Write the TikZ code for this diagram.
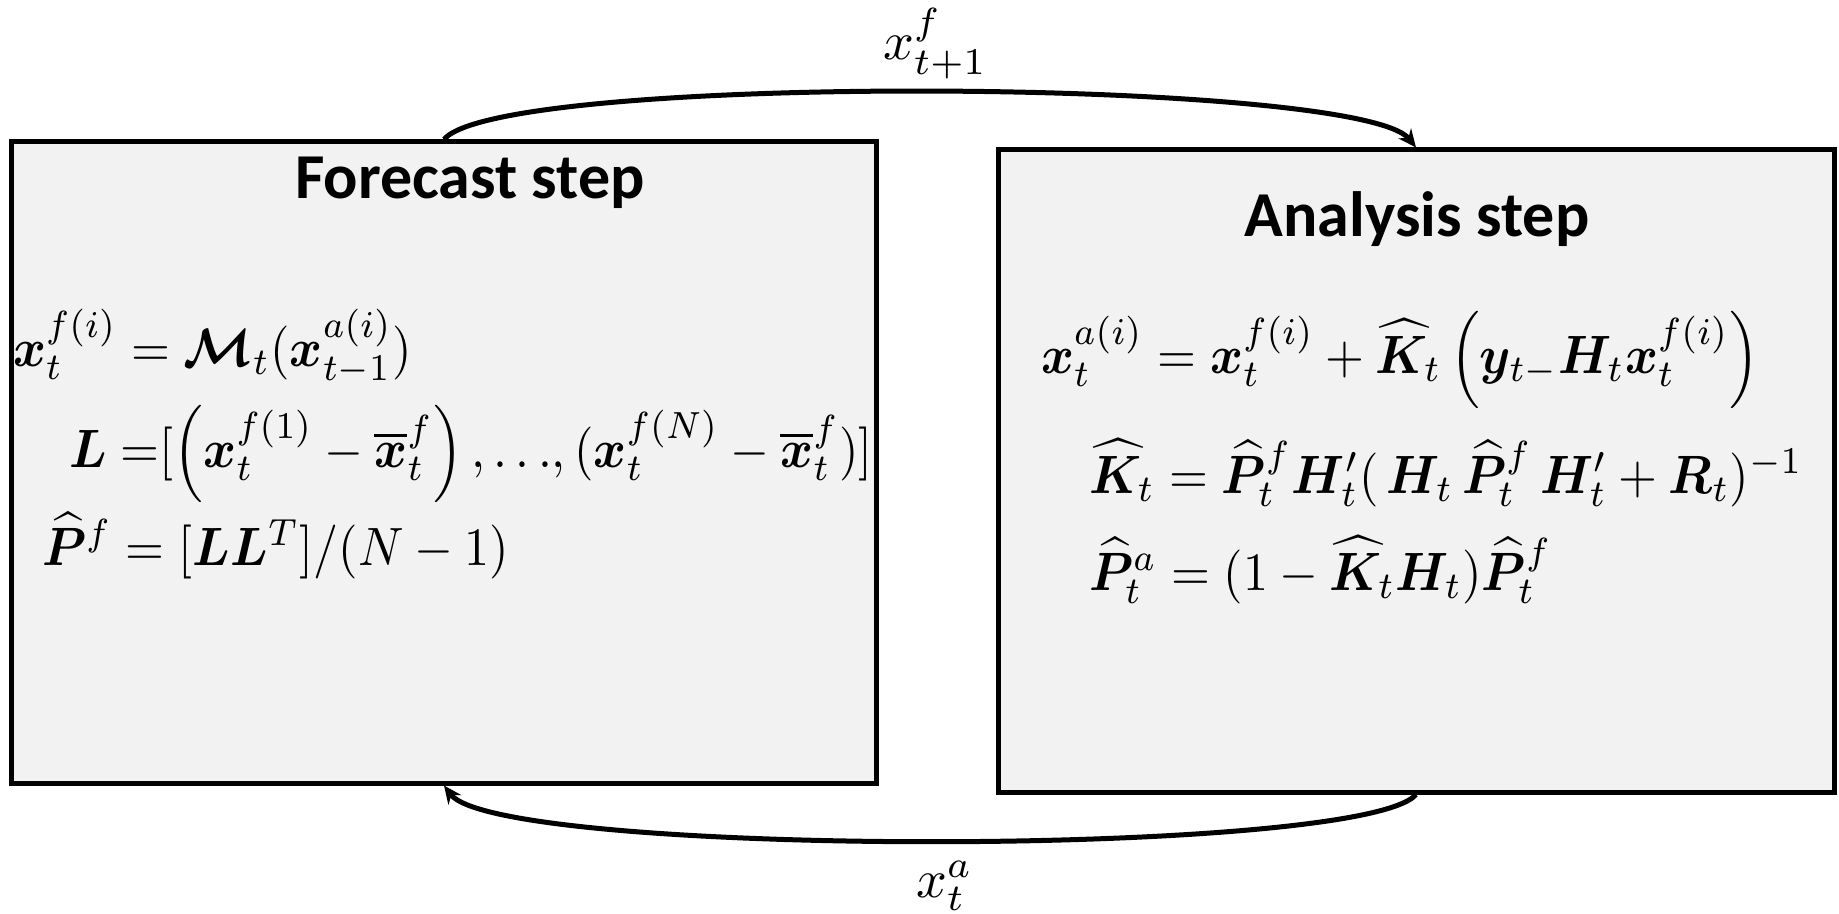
\documentclass[tikz,border=0pt]{standalone}
\usepackage{fontspec}
\usepackage{amsmath}
\usepackage{bm}
\usetikzlibrary{arrows.meta}
\newfontfamily\titlefont{Carlito}
\definecolor{boxfill}{HTML}{F2F2F2}
\begin{document}
\begin{tikzpicture}[x=0.5pt,y=-0.5pt,
  stepbox/.style={draw=black, line width=2.5pt, fill=boxfill, rectangle, inner sep=0pt},
  titletext/.style={font=\titlefont\bfseries\fontsize{32}{38}\selectfont, inner sep=0pt},
  formula/.style={xscale=2.5, yscale=2.7, inner sep=0pt, anchor=base west},
  label/.style={scale=2.7, inner sep=0pt, anchor=base west},
  conn/.style={line width=2.5pt, -{Stealth[length=9pt,width=8pt]}}]
\useasboundingbox (0,0) rectangle (1839,914);
\node[stepbox, minimum width=432.5pt, minimum height=320.5pt] (fc) at (444,462.5) {};
\node[stepbox, minimum width=418pt, minimum height=321pt] (an) at (1416,471) {};
\node[titletext, anchor=base] (fct) at (470,199) {Forecast step};
\node[titletext, anchor=base] (ant) at (1417,237) {Analysis step};
% forecast formulas
\node[formula] (f1) at (12,366) {$\bm{x}_t^{f(i)} = \bm{\mathcal{M}}_t(\bm{x}_{t-1}^{a(i)})$};
\node[formula] (f2) at (68,467) {$\bm{L}\;{=}[\left(\bm{x}_t^{f(1)} - \overline{\bm{x}}_t^f\right){,}\,{\ldots}{,}\,(\bm{x}_t^{f(N)} - \overline{\bm{x}}_t^f)]$};
\node[formula] (f3) at (41,565) {$\widehat{\bm{P}}^f = [\bm{L}\bm{L}^T]/(N-1)$};
% analysis formulas
\node[formula] (a1) at (1040,373) {$\bm{x}_t^{a(i)} = \bm{x}_t^{f(i)} + \widehat{\bm{K}}_t \left(\bm{y}_{t-}\bm{H}_t\bm{x}_t^{f(i)}\right)$};
\node[formula] (a2) at (1088,493) {$\widehat{\bm{K}}_t = \widehat{\bm{P}}_t^f \bm{H}'_t(\,\bm{H}_t\,\widehat{\bm{P}}_t^f\,\bm{H}'_t + \bm{R}_t)^{-1}$};
\node[formula] (a3) at (1088,590) {$\widehat{\bm{P}}_t^a = (1-\widehat{\bm{K}}_t\bm{H}_t)\widehat{\bm{P}}_t^f$};
% connector labels
\node[label] (lt) at (882,60) {$x_{t+1}^f$};
\node[label] (lb) at (915,897) {$x_t^a$};
% connectors
\draw[conn] (fc.north) .. controls +(54,-67) and +(-56,-70) .. (an.north);
\draw[conn] (an.south) .. controls +(-54,63) and +(54,72) .. (fc.south);
\end{tikzpicture}
\end{document}
